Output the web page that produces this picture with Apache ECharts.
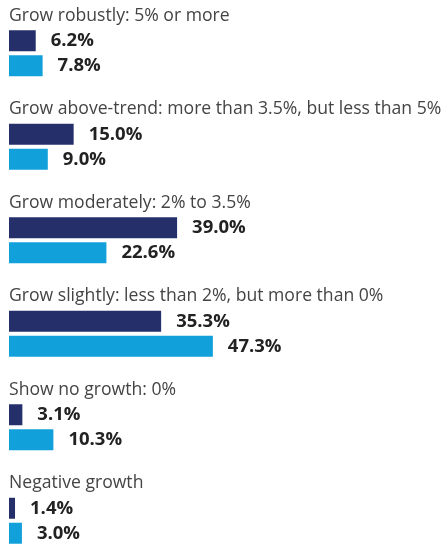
<!DOCTYPE html>
<html><head><meta charset="utf-8">
<script src="https://cdn.jsdelivr.net/npm/echarts@6/dist/echarts.min.js"></script>
<style>html,body{margin:0;padding:0;background:#fff}#c{width:448px;height:546px}</style>
</head><body><div id="c"></div>
<script>
const categories = [
  "Grow robustly: 5% or more",
  "Grow above-trend: more than 3.5%, but less than 5%",
  "Grow moderately: 2% to 3.5%",
  "Grow slightly: less than 2%, but more than 0%",
  "Show no growth: 0%",
  "Negative growth"
];
const seriesA = [6.2, 15.0, 39.0, 35.3, 3.1, 1.4];
const seriesB = [7.8, 9.0, 22.6, 47.3, 10.3, 3.0];

const chart = echarts.init(document.getElementById('c'), null, {renderer: 'canvas'});
const valLabel = {
  show: true, position: 'right', distance: 15,
  formatter: p => p.value.toFixed(1) + '%',
  fontFamily: 'Open Sans', fontWeight: 'bold', fontSize: 18.5, color: '#222'
};
chart.setOption({
  animation: false,
  grid: {left: 9, width: 431, top: -6, height: 561, outerBoundsMode: 'none', containLabel: false},
  xAxis: {type: 'value', min: 0, max: 100, show: false},
  yAxis: {type: 'category', data: categories, inverse: true, show: false},
  series: [
    {
      type: 'bar', data: categories.map(() => 0), barWidth: 21, barGap: '19%', barCategoryGap: '24%',
      itemStyle: {color: 'transparent'},
      label: {show: true, position: 'right', distance: 0, formatter: p => p.name,
        fontFamily: 'Open Sans', fontSize: 17.6, color: '#444'}
    },
    {type: 'bar', data: seriesA, barWidth: 21, barGap: '19%', itemStyle: {color: '#25306b'}, label: valLabel},
    {type: 'bar', data: seriesB, barWidth: 21, barGap: '19%', itemStyle: {color: '#12a0da'}, label: valLabel}
  ]
});
</script></body></html>
